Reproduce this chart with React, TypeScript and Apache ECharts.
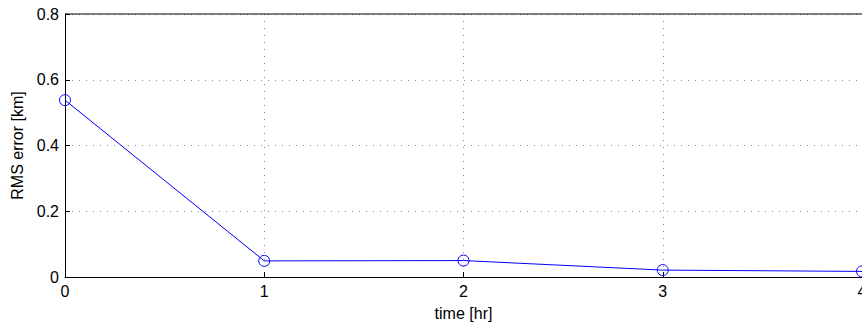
import React, { useEffect, useRef } from "react";
import * as echarts from "echarts";

const timeHr = [0, 1, 2, 3, 4];
const rmsErrorKm = [0.538, 0.049, 0.05, 0.021, 0.017];
const yTicks = [0, 0.2, 0.4, 0.6, 0.8];

export default function App() {
  const ref = useRef<HTMLDivElement>(null);
  useEffect(() => {
    document.documentElement.style.overflow = "hidden";
    document.body.style.overflow = "hidden";
    const chart = echarts.init(ref.current!, undefined, { renderer: "svg" });
    const font = "'Liberation Sans', Arial, Helvetica, sans-serif";
    chart.setOption({
      animation: false,
      backgroundColor: "#ffffff",
      grid: { left: 65, top: 14, width: 797, height: 263, show: false },
      xAxis: {
        type: "value",
        min: 0,
        max: 4,
        interval: 1,
        name: "time [hr]",
        nameLocation: "middle",
        nameGap: 28,
        nameTextStyle: { color: "#000", fontSize: 16, fontFamily: font },
        axisLine: { show: true, onZero: false, lineStyle: { color: "#000", width: 1 } },
        axisTick: { show: true, inside: true, length: 5, lineStyle: { color: "#000" } },
        axisLabel: { color: "#000", fontSize: 16, fontFamily: font, margin: 6 },
        splitLine: { show: true, lineStyle: { color: "#888", type: [1, 6], width: 1 } },
      },
      yAxis: [
        {
          type: "value",
          min: 0,
          max: 0.8,
          interval: 0.2,
          name: "RMS error [km]",
          nameLocation: "middle",
          nameGap: 40,
          nameTextStyle: { color: "#000", fontSize: 16, fontFamily: font },
          axisLine: { show: true, lineStyle: { color: "#000", width: 1 } },
          axisTick: { show: true, inside: true, length: 5, lineStyle: { color: "#000" } },
          axisLabel: {
            color: "#000",
            fontSize: 16,
            fontFamily: font,
            margin: 6,
            formatter: (v: number) => {
              const t = yTicks.find((x) => Math.abs(x - v) < 1e-9);
              return t === 0 ? "0" : String(t !== undefined ? t : v);
            },
          },
          splitLine: { show: true, lineStyle: { color: "#888", type: [1, 6], width: 1 } },
        },
      ],
      series: [
        {
          type: "line",
          data: timeHr.map((t, i) => [t, rmsErrorKm[i]]),
          symbol: "circle",
          symbolSize: 11,
          lineStyle: { color: "#0000ff", width: 1 },
          itemStyle: { color: "rgba(0,0,0,0)", borderColor: "#0000ff", borderWidth: 1 },
          clip: false,
        },
        {
          type: "line",
          data: [
            [0, 0.8],
            [4.2, 0.8],
          ],
          symbol: "none",
          lineStyle: { color: "#000", width: 1 },
          silent: true,
          clip: false,
        },
      ],
    });
    return () => chart.dispose();
  }, []);
  return (
    <div
      ref={ref}
      style={{ position: "absolute", left: 0, top: 0, width: 900, height: 326 }}
    />
  );
}
